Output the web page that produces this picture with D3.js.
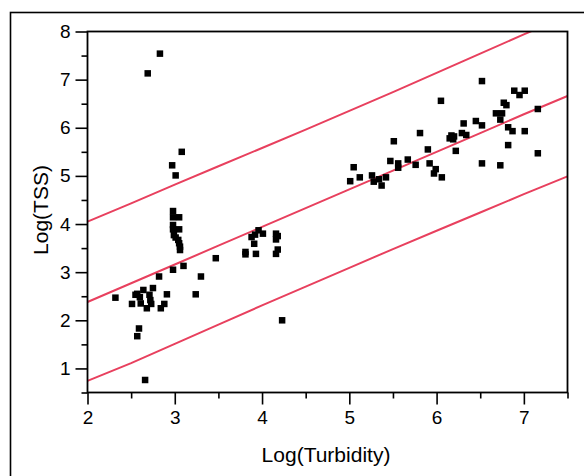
<!DOCTYPE html>
<html><head><meta charset="utf-8">
<script src="https://cdnjs.cloudflare.com/ajax/libs/d3/7.8.5/d3.min.js"></script>
<style>body{margin:0;background:#fff;}svg{display:block;font-family:"Liberation Sans",Arial,sans-serif;}</style>
</head><body><svg id="c" width="584" height="476"></svg>
<script>
// Scatter data: Log(Turbidity) vs Log(TSS)
const turbidity = [
  2.83,2.69,3.08,2.97,3.01,
  2.98,2.98,3.05,2.98,2.98,3.05,2.99,3.01,3.04,3.05,3.06,3.06,2.98,3.10,
  2.32,2.51,2.55,2.57,2.60,2.61,2.64,2.68,2.71,2.72,2.73,2.75,2.82,2.84,2.88,2.91,2.59,2.57,2.66,3.24,3.30,3.47,
  3.81,3.81,3.93,3.91,3.88,3.92,3.96,4.01,4.16,4.18,4.16,4.18,4.16,4.23,
  5.01,5.05,5.12,5.26,5.28,5.34,5.37,5.42,5.47,5.51,5.56,5.56,5.67,5.76,5.81,5.90,5.92,5.99,5.97,6.06,
  6.15,6.20,6.17,6.19,6.05,6.22,6.29,6.31,6.34,6.45,6.52,6.52,6.52,6.68,6.75,6.73,6.77,6.80,6.82,6.87,6.82,6.73,6.89,6.95,7.01,7.01,7.16,7.16
];
const tss = [
  7.54,7.13,5.50,5.22,5.01,
  4.27,4.14,4.14,3.98,3.89,3.89,3.77,3.72,3.67,3.60,3.53,3.46,3.05,3.13,
  2.47,2.34,2.53,2.55,2.48,2.35,2.63,2.25,2.53,2.42,2.34,2.67,2.91,2.25,2.34,2.54,1.83,1.67,0.76,2.54,2.91,3.29,
  3.42,3.37,3.38,3.59,3.73,3.78,3.87,3.80,3.80,3.75,3.68,3.47,3.38,2.00,
  4.89,5.18,4.97,5.01,4.88,4.93,4.80,4.97,5.31,5.72,5.26,5.17,5.34,5.23,5.89,5.55,5.26,5.14,5.05,4.97,
  5.78,5.82,5.84,5.76,6.56,5.52,5.89,6.09,5.85,6.14,6.97,6.05,5.26,6.30,6.30,6.17,6.52,6.47,6.01,5.93,5.64,5.22,6.77,6.68,6.77,5.93,6.39,5.47
];
// Fitted line and individual prediction limits
const lineX  = [2, 2.5, 3, 3.5, 4, 4.5, 5, 5.5, 6, 6.5, 7, 7.5];
const fitY   = [2.38, 2.77, 3.16, 3.55, 3.94, 4.33, 4.72, 5.11, 5.50, 5.89, 6.28, 6.66];
const upperY = [4.05, 4.43, 4.82, 5.20, 5.58, 5.96, 6.35, 6.74, 7.14, 7.54, 7.94, 8.33];
const lowerY = [0.74, 1.11, 1.51, 1.91, 2.31, 2.70, 3.09, 3.48, 3.86, 4.24, 4.62, 4.99];
const xMajor = [2, 3, 4, 5, 6, 7];
const xMinor = [2.5, 3.5, 4.5, 5.5, 6.5, 7.5];
const yMajor = [1, 2, 3, 4, 5, 6, 7, 8];
const yMinor = [0.5, 1.5, 2.5, 3.5, 4.5, 5.5, 6.5, 7.5];
const xTitle = "Log(Turbidity)";
const yTitle = "Log(TSS)";

const svg = d3.select("#c");
const L = 87.5, R = 567.5, T = 31.5, B = 392.5;
const x = d3.scaleLinear().domain([2, 7.5]).range([L, R]);
const y = d3.scaleLinear().domain([0.5, 8]).range([B, T]);

// outer frame
svg.append("rect").attr("x", 10.5).attr("y", 12.5).attr("width", 620).attr("height", 520)
  .attr("fill", "none").attr("stroke", "#000").attr("stroke-width", 1.6);

svg.append("defs").append("clipPath").attr("id", "clip")
  .append("rect").attr("x", L).attr("y", T).attr("width", R - L).attr("height", B - T);

const lineGen = d3.line().x(d => x(d[0])).y(d => y(d[1]));
const lg = svg.append("g").attr("clip-path", "url(#clip)");
[fitY, upperY, lowerY].forEach(arr => {
  lg.append("path").datum(lineX.map((v, i) => [v, arr[i]]))
    .attr("d", lineGen).attr("fill", "none").attr("stroke", "#e8405e").attr("stroke-width", 2);
});

// points
const s = 6.5;
svg.append("g").selectAll("rect").data(turbidity.map((v, i) => [v, tss[i]])).join("rect")
  .attr("x", d => x(d[0]) - s / 2).attr("y", d => y(d[1]) - s / 2)
  .attr("width", s).attr("height", s).attr("fill", "#000");

// plot frame
svg.append("rect").attr("x", L).attr("y", T).attr("width", R - L).attr("height", B - T)
  .attr("fill", "none").attr("stroke", "#000").attr("stroke-width", 1.8);

function style(g) {
  g.select(".domain").remove();
  g.selectAll("line").attr("stroke", "#000").attr("stroke-width", 1.6);
  g.selectAll("text").attr("font-size", 19).attr("fill", "#000").attr("font-family", '"Liberation Sans",Arial,sans-serif');
}
svg.append("g").attr("transform", `translate(0,${B})`)
  .call(d3.axisBottom(x).tickValues(xMajor).tickSize(12).tickPadding(6).tickFormat(d3.format("d"))).call(style);
svg.append("g").attr("transform", `translate(0,${B})`)
  .call(d3.axisBottom(x).tickValues(xMinor).tickSize(6).tickFormat("")).call(style);
svg.append("g").attr("transform", `translate(${L},0)`)
  .call(d3.axisLeft(y).tickValues(yMajor).tickSize(12).tickPadding(5).tickFormat(d3.format("d"))).call(style);
svg.append("g").attr("transform", `translate(${L},0)`)
  .call(d3.axisLeft(y).tickValues(yMinor).tickSize(6).tickFormat("")).call(style);

svg.append("text").attr("x", 326).attr("y", 461.5).attr("text-anchor", "middle")
  .attr("font-size", 21).text(xTitle);
svg.append("text").attr("transform", "translate(48,210) rotate(-90)").attr("text-anchor", "middle")
  .attr("font-size", 21).text(yTitle);
</script></body></html>
